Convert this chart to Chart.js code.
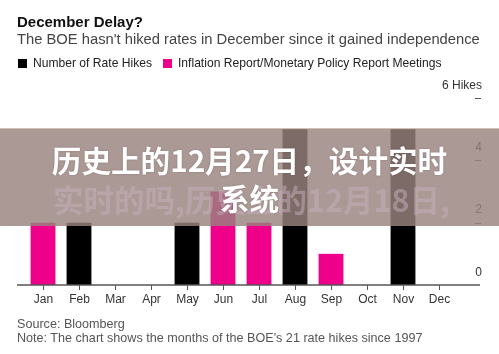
<!DOCTYPE html>
<html lang="en">
<head>
<meta charset="UTF-8">
<script src="https://cdn.jsdelivr.net/npm/chart.js@4.4.0/dist/chart.umd.min.js"></script>
<title>December Delay?</title>
<style>
  body { margin: 0; background: #fff; font-family: "Liberation Sans", Arial, sans-serif; }
  .page { position: relative; width: 499px; height: 354px; overflow: hidden; }
  .txt { position: absolute; white-space: nowrap; }
  #title { left: 17px; top: 14px; font-size: 15px; line-height: 15px; font-weight: bold; color: #111; }
  #subtitle { left: 17px; top: 32px; font-size: 14.75px; line-height: 15px; color: #444; }
  .legend { top: 57px; font-size: 12.1px; line-height: 12px; color: #222; }
  .swatch { position: absolute; top: 59px; width: 9px; height: 9px; }
  #source { left: 17px; top: 318px; font-size: 12.6px; line-height: 12px; color: #555; }
  #note { left: 17px; top: 332px; font-size: 12.6px; line-height: 12px; color: #555; }
  canvas { position: absolute; left: 0; top: 0; }
  .overlay { position: absolute; left: 0; top: 128px; width: 499px; height: 97px; background: rgba(152,131,126,0.82); border-top: 1px solid rgba(230,220,200,0.6); }
  .faded { position: absolute; left: 53px; top: 184px; font: bold 30.5px "Noto Sans CJK SC", sans-serif; line-height: 30px; color: rgba(200,175,192,0.5); white-space: nowrap; }
  .headline { position: absolute; left: 0; top: 141px; width: 499px; text-align: center; font: bold 29.6px "Noto Sans CJK SC", sans-serif; line-height: 38px; color: #fff; text-shadow: 0 0 2px rgba(60,40,40,0.3); }
</style>
</head>
<body>
<div class="page">
  <canvas id="chart" width="499" height="354"></canvas>
  <div class="txt" id="title">December Delay?</div>
  <div class="txt" id="subtitle">The BOE hasn't hiked rates in December since it gained independence</div>
  <div class="swatch" style="left:18px;background:#000"></div>
  <div class="txt legend" style="left:33px">Number of Rate Hikes</div>
  <div class="swatch" style="left:163px;background:#ee008b"></div>
  <div class="txt legend" style="left:178px">Inflation Report/Monetary Policy Report Meetings</div>
  <div class="txt" id="source">Source: Bloomberg</div>
  <div class="txt" id="note">Note: The chart shows the months of the BOE's 21 rate hikes since 1997</div>
  <div class="overlay"></div>
  <div class="faded">实时的吗,历史上的12月18日,</div>
  <div class="headline">历史上的12月27日，设计实时<br>系统</div>
</div>
<script>
const months = ['Jan', 'Feb', 'Mar', 'Apr', 'May', 'Jun', 'Jul', 'Aug', 'Sep', 'Oct', 'Nov', 'Dec'];
const hikes = [2, 2, 0, 0, 2, 3, 2, 5, 1, 0, 5, 0];
// months drawn in magenta (report meeting months)
const reportMonths = ['Jan', 'Jun', 'Jul', 'Sep'];
const yTicks = [0, 2, 4, 6];

const PINK = '#ee008b';
const BLACK = '#000';

// axis line, month ticks and right side labels
const axisPlugin = {
  id: 'axisPlugin',
  afterDraw(chart) {
    const ctx = chart.ctx;
    const x = chart.scales.x, y = chart.scales.y;
    const y0 = y.getPixelForValue(0);
    ctx.save();
    ctx.strokeStyle = '#555';
    ctx.lineWidth = 1.5;
    ctx.beginPath();
    ctx.moveTo(17, y0);
    ctx.lineTo(480, y0);
    ctx.stroke();

    ctx.lineWidth = 1;
    ctx.fillStyle = '#333';
    ctx.font = '12px "Liberation Sans", Arial, sans-serif';
    ctx.textAlign = 'center';
    ctx.textBaseline = 'middle';
    months.forEach((m, i) => {
      const px = Math.round(x.getPixelForValue(i)) + 0.5;
      ctx.beginPath();
      ctx.moveTo(px, y0);
      ctx.lineTo(px, y0 + 5);
      ctx.stroke();
      ctx.fillText(m, px, y0 + 15);
    });

    ctx.textAlign = 'right';
    yTicks.forEach(v => {
      const py = y.getPixelForValue(v);
      ctx.fillText(v === 6 ? '6 Hikes' : String(v), 482, py - 12.5);
      if (v > 0) {
        ctx.beginPath();
        ctx.moveTo(475, Math.round(py) + 0.5);
        ctx.lineTo(481, Math.round(py) + 0.5);
        ctx.stroke();
      }
    });
    ctx.restore();
  }
};

new Chart(document.getElementById('chart'), {
  type: 'bar',
  data: {
    labels: months,
    datasets: [{
      data: hikes,
      backgroundColor: months.map(m => reportMonths.includes(m) ? PINK : BLACK),
      barPercentage: 0.69,
      categoryPercentage: 1
    }]
  },
  options: {
    responsive: false,
    animation: false,
    layout: { padding: { left: 25, right: 42, top: 98, bottom: 69 } },
    plugins: { legend: { display: false }, tooltip: { enabled: false } },
    scales: {
      x: { display: false },
      y: { display: false, min: 0, max: 6 }
    }
  },
  plugins: [axisPlugin]
});
</script>
</body>
</html>
